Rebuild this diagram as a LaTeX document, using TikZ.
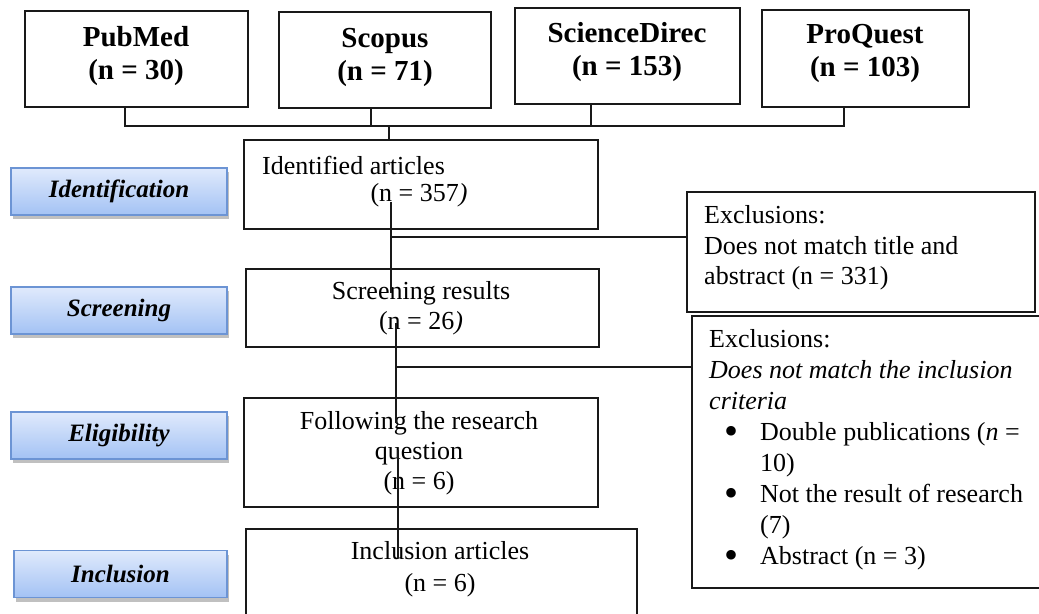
\documentclass[tikz,border=0pt]{standalone}
\usepackage{fontspec}
\setmainfont{Liberation Serif}
\usetikzlibrary{shadows,calc}
\definecolor{stagetop}{RGB}{224,234,252}
\definecolor{stagebot}{RGB}{163,194,244}
\definecolor{stageline}{RGB}{108,148,212}
\newcommand{\bigbul}{\makebox[36bp][l]{\fontsize{40bp}{0bp}\selectfont\raisebox{-0.1em}{•}}}
\begin{document}
\begin{tikzpicture}[x=1bp,y=-1bp,
  frame/.style={draw=black!90, line width=1.1bp, inner sep=0pt, outer sep=0pt},
  srcbox/.style={frame, minimum height=96bp},
  srctext/.style={inner sep=0pt, align=center, font=\bfseries\fontsize{29bp}{33bp}\selectfont},
  bodytext/.style={inner sep=0pt, font=\fontsize{26bp}{30bp}\selectfont},
  stagebox/.style={draw=stageline, line width=1.2bp, top color=stagetop, bottom color=stagebot,
     minimum width=216bp, minimum height=47bp, inner sep=0pt, outer sep=0pt,
     drop shadow={shadow xshift=2bp, shadow yshift=-4bp, opacity=0.35, fill=black!70},
     font=\bfseries\itshape\fontsize{25bp}{28bp}\selectfont},
  conn/.style={draw=black!90, line width=1.2bp}
]
\useasboundingbox (0,0) rectangle (1039,614);
\clip (0,0) rectangle (1039,614);
\fill[white] (0,0) rectangle (1039,614);

% source boxes
\node[srcbox, minimum width=223bp] (pubmed) at (136.5,59) {};
\node[srcbox, minimum width=212bp] (scopus) at (385,60) {};
\node[srcbox, minimum width=225bp] (sciencedirect) at (627.5,56) {};
\node[srcbox, minimum width=207bp, minimum height=97bp] (proquest) at (865.5,58.5) {};
\node[srctext] (pubmedT) at (136,56) {PubMed\\(n = 30)};
\node[srctext] (scopusT) at (385,57.5) {Scopus\\(n = 71)};
\node[srctext] (sciencedirectT) at (627,52) {ScienceDirec\\(n = 153)};
\node[srctext] (proquestT) at (865,53.5) {ProQuest\\(n = 103)};

% stage boxes
\node[stagebox] (identification) at (119,191.5) {Identification};
\node[stagebox] (screening) at (119,310.5) {Screening};
\node[stagebox] (eligibility) at (119,435.5) {Eligibility};
\node[stagebox, minimum width=213bp] (inclusion) at (120.5,574) {Inclusion};

% flow boxes
\node[frame, minimum width=354bp, minimum height=89bp] (ident) at (421,184.5) {};
\node[frame, minimum width=353bp, minimum height=78bp] (screen) at (422.5,308) {};
\node[frame, minimum width=354bp, minimum height=109bp] (elig) at (421,452.5) {};
\node[frame, minimum width=391bp, minimum height=111bp] (incl) at (441.5,584.5) {};
\node[frame, minimum width=348bp, minimum height=120bp] (excla) at (861,252) {};
\node[frame, minimum width=353bp, minimum height=272bp] (exclb) at (868.5,452) {};

% texts
\node[bodytext, anchor=west] (identT1) at (262,165) {Identified articles};
\node[bodytext] (identT2) at (419,195) {(n = 357\textit{)}};
\node[bodytext] (screenT1) at (421,293) {Screening results};
\node[bodytext] (screenT2) at (421,323) {(n = 26\textit{)}};
\node[bodytext, align=center] (eligT) at (419,453) {Following the research\\question\\(n = 6)};
\node[bodytext, align=center, font=\fontsize{26bp}{32bp}\selectfont] (inclT) at (440,569) {Inclusion articles\\(n = 6)};
\node[bodytext, align=left, anchor=west, font=\fontsize{26bp}{30.5bp}\selectfont] (exclaT) at (704,248)
  {Exclusions:\\Does not match title and\\abstract (n = 331)};
\node[bodytext, align=left, anchor=west, font=\fontsize{26bp}{31bp}\selectfont] (exclbT) at (709,450)
  {Exclusions:\\
   \textit{Does not match the inclusion}\\
   \textit{criteria}\\
   \hspace*{15bp}\bigbul Double publications (\textit{n} =\\
   \hspace*{51bp}10)\\
   \hspace*{15bp}\bigbul Not the result of research\\
   \hspace*{51bp}(7)\\
   \hspace*{15bp}\bigbul Abstract (n = 3)};

% connectors
\coordinate (bus) at (389,126);
\draw[conn] ([xshift=-11.5bp]pubmed.south) |- (bus) -| ([xshift=-21.5bp]proquest.south);
\draw[conn] ([xshift=-14bp]scopus.south) -- ([xshift=-14bp]scopus.south |- bus);
\draw[conn] ([xshift=-36.5bp]sciencedirect.south) -- ([xshift=-36.5bp]sciencedirect.south |- bus);
\draw[conn] (bus) -- (bus |- ident.north);

\coordinate (a1) at (391,202);
\coordinate (a2) at (391,293);
\coordinate (h1) at (391,237);
\draw[conn] (a1) -- (a2);
\draw[conn] (h1) -- (h1 -| excla.west);

\coordinate (b1) at (396,323);
\coordinate (b2) at (396,423);
\coordinate (h2) at (397,367);
\draw[conn] (b1) -- (b2);
\draw[conn] (h2) -- (h2 -| exclb.west);

\coordinate (c1) at (398,450);
\coordinate (c2) at (398,558);
\draw[conn] (c1) -- (c2);
\end{tikzpicture}
\end{document}
